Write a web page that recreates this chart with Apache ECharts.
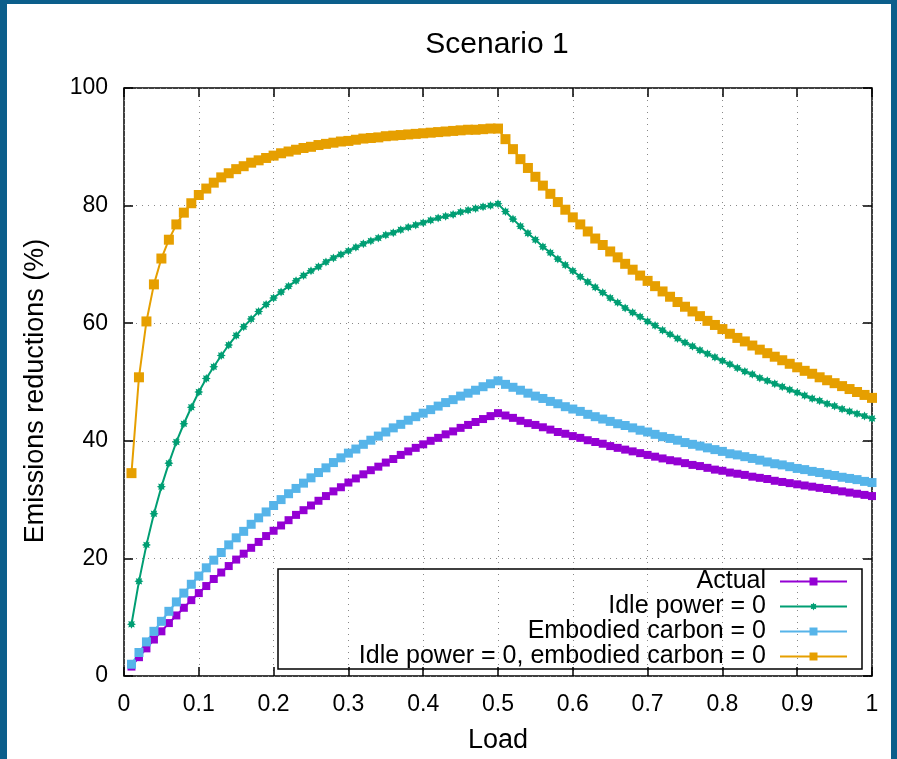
<!DOCTYPE html>
<html>
<head>
<meta charset="utf-8">
<script src="https://cdn.jsdelivr.net/npm/echarts@6/dist/echarts.min.js"></script>
<style>
  html, body { margin: 0; padding: 0; background: #0b5e8b; }
  #chart { position: absolute; left: 7px; top: 4px; width: 884px; height: 755px; background: #fff; }
</style>
</head>
<body>
<div id="chart"></div>
<script>
var loads = [
  0.01,0.02,0.03,0.04,0.05,0.06,0.07,0.08,0.09,0.10,
  0.11,0.12,0.13,0.14,0.15,0.16,0.17,0.18,0.19,0.20,
  0.21,0.22,0.23,0.24,0.25,0.26,0.27,0.28,0.29,0.30,
  0.31,0.32,0.33,0.34,0.35,0.36,0.37,0.38,0.39,0.40,
  0.41,0.42,0.43,0.44,0.45,0.46,0.47,0.48,0.49,0.50,
  0.51,0.52,0.53,0.54,0.55,0.56,0.57,0.58,0.59,0.60,
  0.61,0.62,0.63,0.64,0.65,0.66,0.67,0.68,0.69,0.70,
  0.71,0.72,0.73,0.74,0.75,0.76,0.77,0.78,0.79,0.80,
  0.81,0.82,0.83,0.84,0.85,0.86,0.87,0.88,0.89,0.90,
  0.91,0.92,0.93,0.94,0.95,0.96,0.97,0.98,0.99,1.00
];

var actual = [
  1.6,3.2,4.7,6.2,7.6,9.0,10.3,11.6,12.9,14.1,
  15.3,16.5,17.6,18.7,19.8,20.8,21.8,22.8,23.8,24.7,
  25.6,26.5,27.4,28.2,29.0,29.8,30.6,31.4,32.1,32.9,
  33.6,34.3,35.0,35.6,36.3,36.9,37.6,38.2,38.8,39.4,
  40.0,40.5,41.1,41.6,42.2,42.7,43.2,43.7,44.2,44.7,
  44.3,43.9,43.4,43.0,42.7,42.3,41.9,41.5,41.2,40.8,
  40.5,40.1,39.8,39.5,39.1,38.8,38.5,38.2,37.9,37.6,
  37.3,37.0,36.7,36.5,36.2,35.9,35.7,35.4,35.1,34.9,
  34.6,34.4,34.2,33.9,33.7,33.5,33.2,33.0,32.8,32.6,
  32.4,32.2,32.0,31.8,31.6,31.4,31.2,31.0,30.8,30.6
];

var idleZero = [
  8.8,16.1,22.3,27.6,32.2,36.2,39.8,42.9,45.7,48.3,
  50.6,52.6,54.5,56.3,57.9,59.4,60.7,62.0,63.2,64.3,
  65.3,66.3,67.2,68.1,68.9,69.6,70.4,71.1,71.7,72.3,
  72.9,73.5,74.0,74.5,75.0,75.4,75.9,76.3,76.7,77.1,
  77.5,77.9,78.2,78.5,78.9,79.2,79.5,79.8,80.0,80.3,
  79.0,77.7,76.5,75.3,74.2,73.0,72.0,70.9,69.9,68.9,
  67.9,67.0,66.1,65.2,64.3,63.5,62.6,61.8,61.1,60.3,
  59.6,58.8,58.1,57.4,56.7,56.1,55.4,54.8,54.2,53.6,
  53.0,52.4,51.8,51.3,50.7,50.2,49.7,49.2,48.7,48.2,
  47.7,47.2,46.8,46.3,45.9,45.4,45.0,44.6,44.2,43.8
];

var embodiedZero = [
  2.0,4.0,5.8,7.6,9.3,11.0,12.6,14.1,15.6,17.0,
  18.4,19.7,21.0,22.3,23.5,24.6,25.8,26.9,27.9,29.0,
  30.0,31.0,31.9,32.8,33.7,34.6,35.4,36.3,37.1,37.9,
  38.6,39.4,40.1,40.8,41.5,42.2,42.8,43.5,44.1,44.7,
  45.3,45.9,46.5,47.0,47.6,48.1,48.6,49.2,49.7,50.2,
  49.6,49.1,48.6,48.1,47.6,47.2,46.7,46.3,45.8,45.4,
  45.0,44.5,44.1,43.7,43.3,42.9,42.6,42.2,41.8,41.5,
  41.1,40.7,40.4,40.1,39.7,39.4,39.1,38.8,38.5,38.2,
  37.8,37.6,37.3,37.0,36.7,36.4,36.1,35.9,35.6,35.3,
  35.1,34.8,34.6,34.3,34.1,33.8,33.6,33.4,33.1,32.9
];

var bothZero = [
  34.5,50.8,60.3,66.6,71.0,74.2,76.8,78.8,80.4,81.8,
  82.9,83.9,84.8,85.5,86.2,86.7,87.3,87.7,88.1,88.5,
  88.9,89.2,89.5,89.8,90.0,90.3,90.5,90.7,90.9,91.0,
  91.2,91.4,91.5,91.6,91.8,91.9,92.0,92.1,92.2,92.3,
  92.4,92.5,92.6,92.7,92.8,92.9,92.9,93.0,93.1,93.1,
  91.3,89.6,87.9,86.4,84.9,83.4,82.0,80.6,79.3,78.0,
  76.8,75.6,74.4,73.3,72.2,71.2,70.1,69.1,68.1,67.2,
  66.3,65.4,64.5,63.6,62.8,62.0,61.2,60.4,59.7,59.0,
  58.2,57.5,56.9,56.2,55.5,54.9,54.3,53.7,53.1,52.5,
  51.9,51.4,50.8,50.3,49.8,49.3,48.8,48.3,47.8,47.3
];

var seriesNames = ['Actual', 'Idle power = 0', 'Embodied carbon = 0', 'Idle power = 0, embodied carbon = 0'];
var seriesValues = [actual, idleZero, embodiedZero, bothZero];
var seriesColors = ['#9400d3', '#009e73', '#56b4e9', '#e69f00'];
var starSymbol = 'path://M10,5L7.77,6.15L8.54,8.54L6.15,7.77L5,10L3.85,7.77L1.46,8.54L2.23,6.15L0,5L2.23,3.85L1.46,1.46L3.85,2.23L5,0L6.15,2.23L8.54,1.46L7.77,3.85Z';
var seriesSymbols = ['rect', starSymbol, 'rect', 'rect'];
var seriesSymbolSizes = [8, 9, 9, 10];

var font = 'Liberation Sans, Arial, Helvetica, sans-serif';

function pairs(vals) {
  return loads.map(function (x, i) { return [x, vals[i]]; });
}

var series = seriesValues.map(function (vals, i) {
  return {
    name: seriesNames[i],
    type: 'line',
    data: pairs(vals),
    symbol: seriesSymbols[i],
    symbolSize: seriesSymbolSizes[i],
    showAllSymbol: true,
    color: seriesColors[i],
    lineStyle: { width: 2, color: seriesColors[i] },
    itemStyle: { color: seriesColors[i] },
    emphasis: { disabled: true }
  };
});

var dotted = { show: true, lineStyle: { color: '#888', width: 1, type: [1, 5] } };
var innerTick = { show: true, inside: true, length: 9, lineStyle: { color: '#000', width: 1.5 } };
var noLine = { show: false, onZero: false };

// tick-only axis on a given side (labels hidden)
function tickAxis(pos, max, interval) {
  return {
    type: 'value', min: 0, max: max, interval: interval, position: pos,
    axisLine: noLine,
    axisTick: innerTick,
    axisLabel: { show: false },
    splitLine: { show: false }
  };
}

var chart = echarts.init(document.getElementById('chart'));
chart.setOption({
  animation: false,
  backgroundColor: '#fff',
  textStyle: { fontFamily: font },
  graphic: [{
    type: 'text',
    x: 490,
    y: 41,
    style: { text: 'Scenario 1', font: '30px ' + font, fill: '#000', align: 'center', verticalAlign: 'middle' }
  }, {
    type: 'text',
    x: 29,
    y: 387,
    rotation: Math.PI / 2,
    style: { text: 'Emissions reductions (%)', font: '27px ' + font, fill: '#000', align: 'center', verticalAlign: 'middle' }
  }],
  grid: {
    left: 117, top: 84, width: 748, height: 591,
    show: true, borderColor: '#000', borderWidth: 1.5
  },
  legend: {
    orient: 'vertical',
    align: 'right',
    right: 29,
    top: 565,
    padding: [0, 14, 0, 10],
    itemGap: 0,
    itemWidth: 67,
    itemHeight: 10,
    borderColor: '#000',
    borderWidth: 1.5,
    selectedMode: false,
    textStyle: { fontSize: 25, color: '#000', fontFamily: font, width: 478, lineHeight: 24, padding: [0, 9, 0, 0] },
    data: seriesNames
  },
  xAxis: [{
    type: 'value', min: 0, max: 1, interval: 0.1,
    name: 'Load', nameLocation: 'middle', nameGap: 51,
    nameTextStyle: { fontSize: 27, color: '#000' },
    axisLine: noLine,
    axisTick: { show: false },
    axisLabel: {
      color: '#000', fontSize: 23, margin: 17,
      formatter: function (v) { return (v === 0 || v === 1) ? String(v) : v.toFixed(1); }
    },
    splitLine: dotted
  }, tickAxis('top', 1, 0.1), tickAxis('bottom', 1, 0.1)],
  yAxis: [{
    type: 'value', min: 0, max: 100, interval: 20,
    axisLine: noLine,
    axisTick: { show: false },
    axisLabel: { color: '#000', fontSize: 23, margin: 16 },
    splitLine: dotted
  }, tickAxis('right', 100, 20), tickAxis('left', 100, 20)],
  series: series
});
</script>
</body>
</html>
